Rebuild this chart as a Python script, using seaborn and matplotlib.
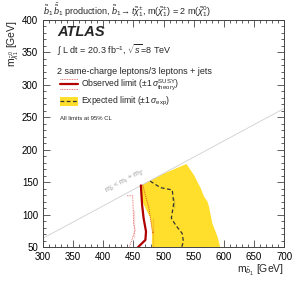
import numpy as np
import matplotlib
matplotlib.use("Agg")
import matplotlib.pyplot as plt
import seaborn as sns
from matplotlib.ticker import MultipleLocator

# contours: m(sbottom) [GeV] vs m(neutralino) [GeV]
obs_x = [462.5, 464.5, 467, 471, 470, 459, 456]
obs_y = [145, 115, 94.5, 74, 61, 51, 48]
obs_up_x = [465.5, 470, 475.5, 482, 484, 482]
obs_up_y = [146, 130, 112, 94.5, 74, 48]
obs_dn_x = [439.5, 449, 450.5, 453, 450.5, 442]
obs_dn_y = [129, 129, 107, 76, 63.5, 46]
exp_x = [478, 495, 514.5, 517, 517, 513, 520, 531, 533, 529.5]
exp_y = [151.5, 141.6, 138, 125, 110, 94.5, 84, 71, 58.5, 48]
band_x = [461, 500, 538, 550.5, 561.7, 567, 573, 575.5, 581, 589.5, 594, 595,
          481, 481, 478, 470, 463]
band_y = [144, 163, 178, 161, 140.7, 128, 120, 112, 86.7, 66, 50, 45,
          45, 75, 95, 110, 125]
kin_x = [300, 700]
m_top = 173

sns.set_style("ticks")
plt.rcParams["font.family"] = ["Liberation Sans", "DejaVu Sans"]
plt.rcParams["mathtext.fontset"] = "custom"
plt.rcParams["mathtext.rm"] = "Liberation Sans"
plt.rcParams["mathtext.it"] = "Liberation Sans:italic"

fig = plt.figure(figsize=(3.0, 2.84), dpi=100)
ax = fig.add_axes([0.143, 0.130, 0.804, 0.800])

yel = "#ffdf2b"
ax.fill(band_x, band_y, color=yel, lw=0, zorder=1)
kin_y = [(v - m_top) / 2 for v in kin_x]
sns.lineplot(x=kin_x, y=kin_y, ax=ax, color="#cfcfcf", lw=0.6, zorder=2)
sns.lineplot(x=exp_x, y=exp_y, sort=False, ax=ax, color="#333333", lw=0.9,
             linestyle=(0, (3, 2)), zorder=3)
sns.lineplot(x=obs_dn_x, y=obs_dn_y, sort=False, ax=ax, color="#e05050", lw=0.6,
             linestyle=(0, (1, 1)), zorder=3)
sns.lineplot(x=obs_up_x, y=obs_up_y, sort=False, ax=ax, color="#e05020", lw=0.7,
             linestyle=(0, (1, 1)), zorder=3)
sns.lineplot(x=obs_x, y=obs_y, sort=False, ax=ax, color="#b00000", lw=1.6, zorder=4)

ax.set_xlim(300, 700)
ax.set_ylim(50, 400)
ax.xaxis.set_major_locator(MultipleLocator(50))
ax.xaxis.set_minor_locator(MultipleLocator(10))
ax.yaxis.set_major_locator(MultipleLocator(50))
ax.yaxis.set_minor_locator(MultipleLocator(10))
ax.tick_params(which="both", direction="in", top=True, right=True,
               labelsize=7, colors="#444444", labelcolor="black", width=0.6)
ax.tick_params(which="major", length=5)
ax.tick_params(which="minor", length=2.5)
for s in ax.spines.values():
    s.set_color("#444444")
    s.set_linewidth(0.7)

ax.set_xlabel(r"m$_{\tilde{b}_1}$ [GeV]", fontsize=7.5, loc="right", labelpad=1)
ax.set_ylabel(r"m$_{\tilde{\chi}_1^0}$ [GeV]", fontsize=7.5, loc="top", labelpad=1)

fig.text(0.143, 0.965,
         r"$\tilde{b}_1\,\bar{\tilde{b}}_1$ production, $\tilde{b}_1\!\rightarrow t\tilde{\chi}_1^{\pm}$, "
         r"m($\tilde{\chi}_1^{\pm}$) = 2 m($\tilde{\chi}_1^{0}$)",
         fontsize=6.5, va="center", ha="left")

ax.text(0.06, 0.945, "ATLAS", transform=ax.transAxes, fontsize=10.5,
        fontweight="bold", style="italic", va="center")
ax.text(0.06, 0.865, r"$\int$ L dt = 20.3 fb$^{-1}$, $\sqrt{s}$=8 TeV",
        transform=ax.transAxes, fontsize=6.5, va="center")
ax.text(0.06, 0.775, "2 same-charge leptons/3 leptons + jets",
        transform=ax.transAxes, fontsize=6.5, va="center")

# legend
t = ax.transAxes
ax.plot([0.07, 0.145], [0.716, 0.716], color="#b00000", lw=1.6, transform=t)
ax.plot([0.07, 0.145], [0.738, 0.738], color="#e05050", lw=0.6,
        linestyle=(0, (1, 1)), transform=t)
ax.plot([0.07, 0.145], [0.694, 0.694], color="#e05050", lw=0.6,
        linestyle=(0, (1, 1)), transform=t)
ax.text(0.16, 0.716, r"Observed limit ($\pm1\,\sigma^{\mathrm{SUSY}}_{\mathrm{theory}}$)",
        transform=t, fontsize=6.2, va="center")
ax.add_patch(plt.Rectangle((0.07, 0.623), 0.075, 0.036, transform=t,
                           color=yel, lw=0))
ax.plot([0.07, 0.145], [0.641, 0.641], color="#333333", lw=0.9,
        linestyle=(0, (3, 2)), transform=t)
ax.text(0.16, 0.641, r"Expected limit ($\pm1\,\sigma_{\mathrm{exp}}$)",
        transform=t, fontsize=6.2, va="center")
ax.text(0.07, 0.567, "All limits at 95% CL", transform=t, fontsize=4.3,
        va="center")

ax.text(408, 128, r"m$_{\tilde{b}}$ < m$_t$ + m$_{\tilde{\chi}^{\pm}}$",
        fontsize=5, color="#999999", rotation=28.5, rotation_mode="anchor",
        ha="left", va="bottom")

fig.savefig("out.png", dpi=100)
